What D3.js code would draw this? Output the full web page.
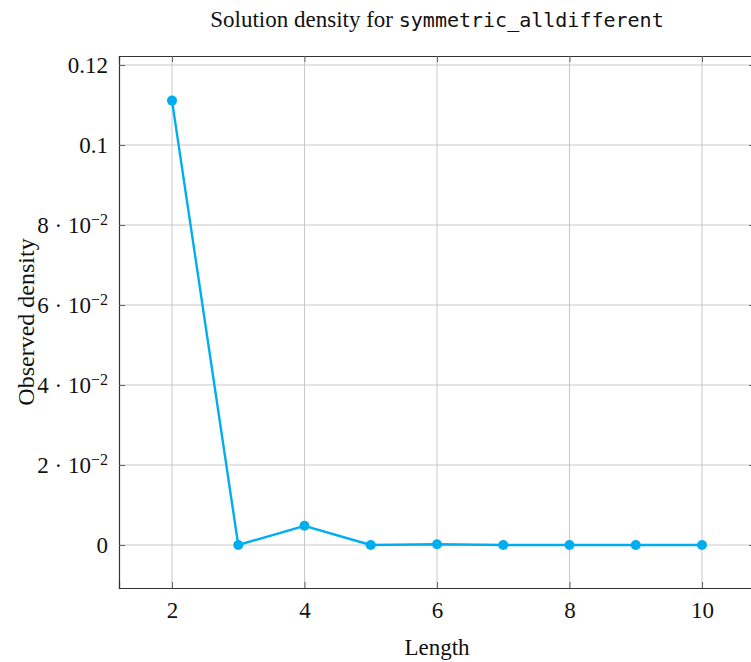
<!DOCTYPE html>
<html>
<head>
<meta charset="utf-8">
<script src="https://cdn.jsdelivr.net/npm/d3@7"></script>
<style>
  body { margin: 0; background: #fff; }
  svg { display: block; font-family: "Liberation Serif", "DejaVu Serif", serif; }
</style>
</head>
<body>
<svg width="751" height="662"></svg>
<script>
// chart data
const lengths = [2, 3, 4, 5, 6, 7, 8, 9, 10];
const density = [0.1111, 0, 0.0048, 0, 0.0002, 0, 0, 0, 0];
const xTicks = [2, 4, 6, 8, 10];
const yTicks = [0, 0.02, 0.04, 0.06, 0.08, 0.1, 0.12];
const yTickLabels = ['0', '2 · 10', '4 · 10', '6 · 10', '8 · 10', '0.1', '0.12'];

const svg = d3.select('svg');
const margin = { top: 56, right: -4, bottom: 74, left: 119 };
const width = +svg.attr('width') - margin.left - margin.right;
const height = +svg.attr('height') - margin.top - margin.bottom;
const color = '#00aeef';
const fs = 23;

const g = svg
  .append('g')
  .attr('transform', `translate(${margin.left},${margin.top})`);

const x = d3.scaleLinear().domain([1.2, 10.8]).range([0, width]);
const y = d3.scaleLinear().domain([-0.01075, 0.12225]).range([height, 0]);

// grid
g.append('g')
  .selectAll('line')
  .data(xTicks)
  .join('line')
  .attr('x1', d => x(d)).attr('x2', d => x(d))
  .attr('y1', 0).attr('y2', height)
  .attr('stroke', '#c8c8c8').attr('stroke-width', 1);

g.append('g')
  .selectAll('line')
  .data(yTicks)
  .join('line')
  .attr('x1', 0).attr('x2', width)
  .attr('y1', d => y(d)).attr('y2', d => y(d))
  .attr('stroke', '#c8c8c8').attr('stroke-width', 1);

// axes with inward ticks
const xAxis = g.append('g')
  .attr('transform', `translate(0,${height})`)
  .call(d3.axisBottom(x).tickValues(xTicks).tickSize(-6).tickPadding(14).tickFormat(d3.format('d')));
const xTop = g.append('g')
  .call(d3.axisTop(x).tickValues(xTicks).tickSize(-6).tickFormat(''));
const yAxis = g.append('g')
  .call(d3.axisLeft(y).tickValues(yTicks).tickSize(-6).tickFormat(''));
const yRight = g.append('g')
  .attr('transform', `translate(${width},0)`)
  .call(d3.axisRight(y).tickValues(yTicks).tickSize(-6).tickFormat(''));

[xAxis, xTop, yAxis, yRight].forEach(a => {
  a.select('.domain').attr('stroke', '#333').attr('stroke-width', 1.2);
  a.selectAll('.tick line').attr('stroke', '#666');
});
xAxis.selectAll('.tick text')
  .attr('font-size', fs).attr('fill', '#111')
  .attr('font-family', '"Liberation Serif", serif');

// y tick labels with scientific notation
const yl = g.append('g');
yTicks.forEach((t, i) => {
  const txt = yl.append('text')
    .attr('x', -11).attr('y', y(t))
    .attr('dy', '0.35em')
    .attr('text-anchor', 'end')
    .attr('font-size', fs)
    .attr('fill', '#111');
  if (yTickLabels[i].includes('·')) {
    txt.append('tspan').text(yTickLabels[i]);
    txt.append('tspan').attr('dy', '-0.5em').attr('font-size', 16).text('−2');
  } else {
    txt.text(yTickLabels[i]);
  }
});

// line and markers
const line = d3.line()
  .x((d, i) => x(lengths[i]))
  .y(d => y(d));

g.append('path')
  .datum(density)
  .attr('fill', 'none')
  .attr('stroke', color)
  .attr('stroke-width', 2.4)
  .attr('stroke-linejoin', 'round')
  .attr('d', line);

g.append('g')
  .selectAll('circle')
  .data(density)
  .join('circle')
  .attr('cx', (d, i) => x(lengths[i]))
  .attr('cy', d => y(d))
  .attr('r', 5)
  .attr('fill', color);

// labels
svg.append('text')
  .attr('x', 437).attr('y', 27)
  .attr('text-anchor', 'middle')
  .attr('font-size', fs)
  .attr('fill', '#111')
  .call(t => {
    t.append('tspan').text('Solution density for ');
    t.append('tspan')
      .attr('font-family', '"DejaVu Sans Mono", "Liberation Mono", monospace')
      .attr('font-size', 20)
      .text('symmetric_alldifferent');
  });

svg.append('text')
  .attr('x', 437).attr('y', 655)
  .attr('text-anchor', 'middle')
  .attr('font-size', fs)
  .attr('fill', '#111')
  .text('Length');

svg.append('text')
  .attr('transform', `translate(34,${margin.top + height / 2}) rotate(-90)`)
  .attr('text-anchor', 'middle')
  .attr('font-size', 24)
  .attr('fill', '#111')
  .text('Observed density');
</script>
</body>
</html>
